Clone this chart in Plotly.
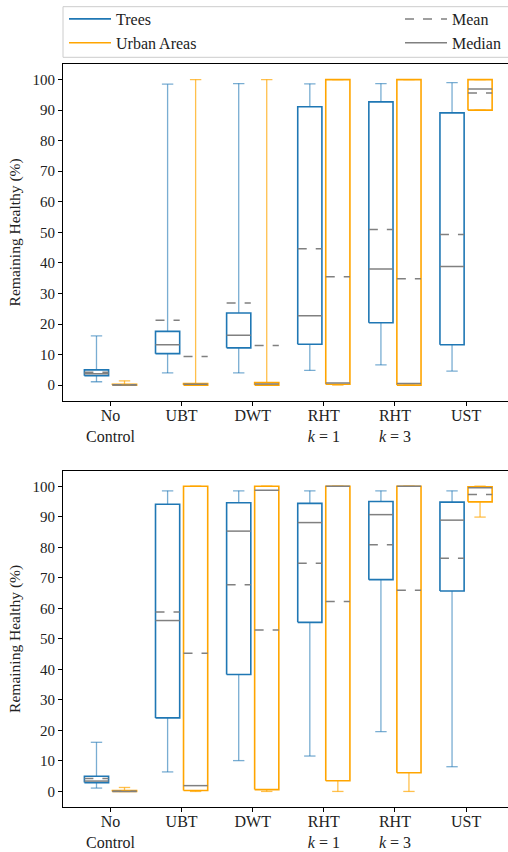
import plotly.graph_objects as go
from plotly.subplots import make_subplots

categories = ["No<br>Control", "UBT", "DWT", "RHT<br><i>k</i> = 1", "RHT<br><i>k</i> = 3", "UST"]
y_ticks = [0, 10, 20, 30, 40, 50, 60, 70, 80, 90, 100]

# Top panel
trees_top_lo = [1.1, 4.0, 4.0, 4.8, 6.6, 4.6]
trees_top_q1 = [3.1, 10.3, 12.2, 13.4, 20.4, 13.2]
trees_top_med = [3.7, 13.2, 16.3, 22.7, 38.0, 38.8]
trees_top_q3 = [5.0, 17.6, 23.6, 91.1, 92.7, 89.1]
trees_top_hi = [16.1, 98.5, 98.7, 98.6, 98.7, 99.0]
trees_top_mean = [4.2, 21.2, 26.9, 44.6, 50.9, 49.3]

urban_top_lo = [0.0, 0.0, 0.0, 0.0, 0.0, 90.0]
urban_top_q1 = [0.0, 0.0, 0.0, 0.3, 0.0, 90.0]
urban_top_med = [0.0, 0.3, 0.4, 0.7, 0.5, 96.9]
urban_top_q3 = [0.3, 0.5, 0.8, 100.0, 100.0, 100.0]
urban_top_hi = [1.4, 100.0, 100.0, 100.0, 100.0, 100.0]
urban_top_mean = [0.1, 9.4, 13.0, 35.5, 34.8, 95.6]

# Bottom panel
trees_bot_lo = [1.1, 6.4, 10.1, 11.6, 19.6, 8.1]
trees_bot_q1 = [2.9, 24.1, 38.3, 55.4, 69.4, 65.7]
trees_bot_med = [3.4, 56.0, 85.3, 88.1, 90.7, 88.9]
trees_bot_q3 = [5.0, 94.1, 94.6, 94.4, 95.0, 94.8]
trees_bot_hi = [16.1, 98.5, 98.5, 98.5, 98.5, 98.5]
trees_bot_mean = [4.2, 58.8, 67.7, 74.8, 80.8, 76.4]

urban_bot_lo = [0.0, 0.0, 0.0, 0.0, 0.0, 89.9]
urban_bot_q1 = [0.0, 0.3, 0.6, 3.5, 6.1, 94.9]
urban_bot_med = [0.0, 1.9, 98.7, 100.0, 100.0, 99.5]
urban_bot_q3 = [0.3, 100.0, 100.0, 100.0, 100.0, 99.8]
urban_bot_hi = [1.3, 100.0, 100.0, 100.0, 100.0, 100.0]
urban_bot_mean = [0.1, 45.3, 52.9, 62.2, 65.9, 97.3]

BLUE = "#1f77b4"
BLUE_W = "rgba(31,119,180,0.6)"
ORANGE = "#ffa500"
ORANGE_W = "rgba(255,165,0,0.7)"
GRAY = "#808080"
FONT = "Liberation Serif"
TXT = "#222"

OFFSET = 0.197
HALF = 0.17
CAP = 0.08

fig = make_subplots(rows=2, cols=1, vertical_spacing=0.0)


def add_group(row, lo, q1, med, q3, hi, mean, side, color, wcolor, name, show):
    bx, by, wx, wy, mx, my, ax, ay = [], [], [], [], [], [], [], []
    for i in range(len(categories)):
        c = i + side * OFFSET
        l, r = c - HALF, c + HALF
        bx += [l, r, r, l, l, None]
        by += [q1[i], q1[i], q3[i], q3[i], q1[i], None]
        wx += [c, c, None, c, c, None, c - CAP, c + CAP, None, c - CAP, c + CAP, None]
        wy += [q1[i], lo[i], None, q3[i], hi[i], None, lo[i], lo[i], None, hi[i], hi[i], None]
        mx += [l, r, None]
        my += [med[i], med[i], None]
        ax += [l, r, None]
        ay += [mean[i], mean[i], None]
    fig.add_trace(go.Scatter(x=wx, y=wy, mode="lines", line=dict(color=wcolor, width=1.3),
                             showlegend=False, hoverinfo="skip"), row=row, col=1)
    fig.add_trace(go.Scatter(x=bx, y=by, mode="lines", line=dict(color=color, width=1.6),
                             name=name, showlegend=show, legend="legend",
                             legendgroup=name, legendrank=1 if side < 0 else 2,
                             hoverinfo="skip"), row=row, col=1)
    fig.add_trace(go.Scatter(x=mx, y=my, mode="lines", line=dict(color=GRAY, width=1.5),
                             name="Median", showlegend=(show and side > 0), legend="legend2",
                             legendgroup="Median", legendrank=2,
                             hoverinfo="skip"), row=row, col=1)
    fig.add_trace(go.Scatter(x=ax, y=ay, mode="lines", line=dict(color=GRAY, width=1.5, dash="dash"),
                             name="Mean", showlegend=(show and side < 0), legend="legend2",
                             legendgroup="Mean", legendrank=1,
                             hoverinfo="skip"), row=row, col=1)


add_group(1, trees_top_lo, trees_top_q1, trees_top_med, trees_top_q3, trees_top_hi, trees_top_mean,
          -1, BLUE, BLUE_W, "Trees", True)
add_group(1, urban_top_lo, urban_top_q1, urban_top_med, urban_top_q3, urban_top_hi, urban_top_mean,
          1, ORANGE, ORANGE_W, "Urban Areas", True)
add_group(2, trees_bot_lo, trees_bot_q1, trees_bot_med, trees_bot_q3, trees_bot_hi, trees_bot_mean,
          -1, BLUE, BLUE_W, "Trees", False)
add_group(2, urban_bot_lo, urban_bot_q1, urban_bot_med, urban_bot_q3, urban_bot_hi, urban_bot_mean,
          1, ORANGE, ORANGE_W, "Urban Areas", False)

H = 852
top_px, bot_px = 64, 807
ph = bot_px - top_px
pw = 508 - 63


def py(px):
    return (bot_px - px) / ph


def px_x(px):
    return (px - 63) / pw


axis_common = dict(showline=True, linecolor="black", linewidth=1.2, ticks="outside", ticklen=4,
                   tickwidth=1, tickcolor="black", showgrid=False, zeroline=False, automargin=False)

for r, (yt, yb) in zip([1, 2], [(64, 400.7), (470.7, 807)]):
    fig.update_xaxes(axis_common, row=r, col=1, range=[-0.668, 5.59], tickmode="array",
                     tickvals=list(range(len(categories))), ticktext=categories, mirror=True,
                     ticklabelstandoff=-4,
                     tickfont=dict(family=FONT, size=16, color=TXT))
    fig.update_yaxes(axis_common, row=r, col=1, range=[-5.1, 105.1], tickmode="array",
                     tickvals=y_ticks, domain=[py(yb), py(yt)],
                     tickfont=dict(family=FONT, size=15, color=TXT),
                     title=dict(text="Remaining Healthy (%)", font=dict(family=FONT, size=15.5, color=TXT),
                                standoff=7))

leg_font = dict(family=FONT, size=16, color=TXT)
fig.update_layout(
    width=508, height=H,
    margin=dict(l=63, r=0, t=top_px, b=H - bot_px, autoexpand=False),
    plot_bgcolor="white", paper_bgcolor="white",
    font=dict(family=FONT, size=15, color=TXT),
    legend=dict(orientation="v", x=px_x(64), y=py(2), xanchor="left", yanchor="top",
                font=leg_font, tracegroupgap=0, traceorder="grouped", itemwidth=42,
                bgcolor="rgba(0,0,0,0)"),
    legend2=dict(orientation="v", x=px_x(400), y=py(2), xanchor="left", yanchor="top",
                 font=leg_font, tracegroupgap=0, traceorder="grouped", itemwidth=42,
                 bgcolor="rgba(0,0,0,0)"),
    shapes=[dict(type="rect", xref="paper", yref="paper", x0=0, x1=1.02,
                 y0=py(57.3), y1=py(6.7), line=dict(color="#cccccc", width=1),
                 fillcolor="rgba(0,0,0,0)", layer="above")],
)

fig.write_html("out.html", config={"displayModeBar": False},
               post_script="document.body.style.margin='0px';")
